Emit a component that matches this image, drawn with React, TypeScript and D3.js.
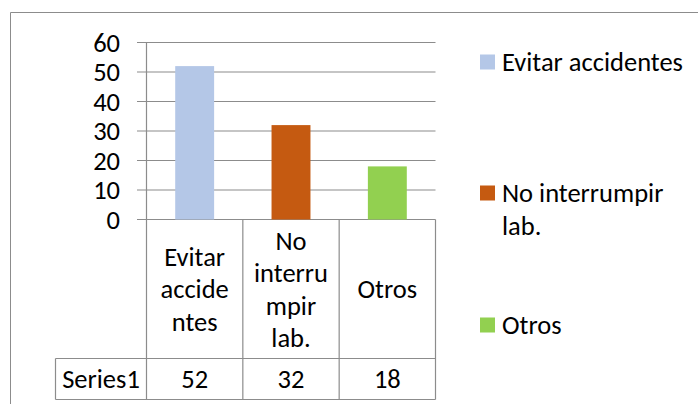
import React from "react";
import * as d3 from "d3";

const categories = ["Evitar accidentes", "No interrumpir lab.", "Otros"];
const values = [52, 32, 18];
const colors = ["#B4C7E7", "#C55A11", "#92D050"];
const tableLabelLines = [["Evitar", "accide", "ntes"], ["No", "interru", "mpir", "lab."], ["Otros"]];
const legendLines = [["Evitar accidentes"], ["No interrumpir", "lab."], ["Otros"]];
const seriesName = "Series1";
const yTicks = [0, 10, 20, 30, 40, 50, 60];

const W = 698;
const H = 406;
const FONT = "Carlito, Calibri, Lato, sans-serif";
const FS = 26.5;
const GRID = "#8c8c8c";

export default function App() {
  const y = d3.scaleLinear().domain([0, 60]).range([219.5, 42.5]);
  const x = d3.scaleBand<string>().domain(categories).range([146.5, 435.5]).paddingInner(0).paddingOuter(0);
  const bw = x.bandwidth();
  const barW = bw * 0.404;
  const rowTop = y(0);
  const catBottom = 358.5;
  const tableBottom = 399.5;
  const seriesLeft = 55.5;
  const lineH = 32.5;
  const catCenter = (rowTop + catBottom) / 2;
  const valCenter = (catBottom + tableBottom) / 2;
  const legendX = 480;
  const legendY = [62, 193, 325];

  return (
    <svg width={W} height={H} style={{ position: "absolute", left: 0, top: 0, background: "#fff" }} fontFamily={FONT}>
      <rect x={0} y={0} width={W} height={H} fill="#fff" />
      {/* frame */}
      <line x1={10.5} y1={12.5} x2={W} y2={12.5} stroke={GRID} />
      <line x1={10.5} y1={12.5} x2={10.5} y2={404} stroke={GRID} />
      {/* gridlines + ticks */}
      {yTicks.map((t) => (
        <g key={t}>
          <line x1={137} x2={x.range()[1]} y1={y(t)} y2={y(t)} stroke={GRID} strokeWidth={1.2} />
          <text x={120} y={y(t)} dy="0.35em" textAnchor="end" fontSize={FS} fill="#000">{t}</text>
        </g>
      ))}
      {/* bars */}
      {categories.map((c, i) => (
        <rect key={c} x={x(c)! + bw / 2 - barW / 2} y={y(values[i])} width={barW} height={y(0) - y(values[i])} fill={colors[i]} />
      ))}
      {/* axis / table lines */}
      <line x1={146.5} x2={146.5} y1={y(60)} y2={tableBottom} stroke={GRID} strokeWidth={1.2} />
      {categories.map((c) => (
        <line key={c} x1={x(c)! + bw} x2={x(c)! + bw} y1={rowTop} y2={tableBottom} stroke={GRID} strokeWidth={1.2} />
      ))}
      <line x1={seriesLeft} x2={x.range()[1]} y1={catBottom} y2={catBottom} stroke={GRID} strokeWidth={1.2} />
      <line x1={seriesLeft} x2={x.range()[1]} y1={tableBottom} y2={tableBottom} stroke={GRID} strokeWidth={1.2} />
      <line x1={seriesLeft} x2={seriesLeft} y1={catBottom} y2={tableBottom} stroke={GRID} strokeWidth={1.2} />
      {/* table category labels */}
      {categories.map((c, i) => {
        const lines = tableLabelLines[i];
        const start = catCenter - ((lines.length - 1) * lineH) / 2;
        return lines.map((ln, j) => (
          <text key={c + j} x={x(c)! + bw / 2} y={start + j * lineH} dy="0.35em" textAnchor="middle" fontSize={FS} fill="#000">{ln}</text>
        ));
      })}
      {/* values */}
      <text x={(seriesLeft + 146.5) / 2} y={valCenter} dy="0.35em" textAnchor="middle" fontSize={FS} fill="#000">{seriesName}</text>
      {categories.map((c, i) => (
        <text key={c} x={x(c)! + bw / 2} y={valCenter} dy="0.35em" textAnchor="middle" fontSize={FS} fill="#000">{values[i]}</text>
      ))}
      {/* legend */}
      {categories.map((c, i) => (
        <g key={c}>
          <rect x={legendX} y={legendY[i] - 7.5} width={15} height={15} fill={colors[i]} />
          {legendLines[i].map((ln, j) => (
            <text key={j} x={502} y={legendY[i] + j * 33} dy="0.35em" fontSize={FS} fill="#000">{ln}</text>
          ))}
        </g>
      ))}
    </svg>
  );
}
